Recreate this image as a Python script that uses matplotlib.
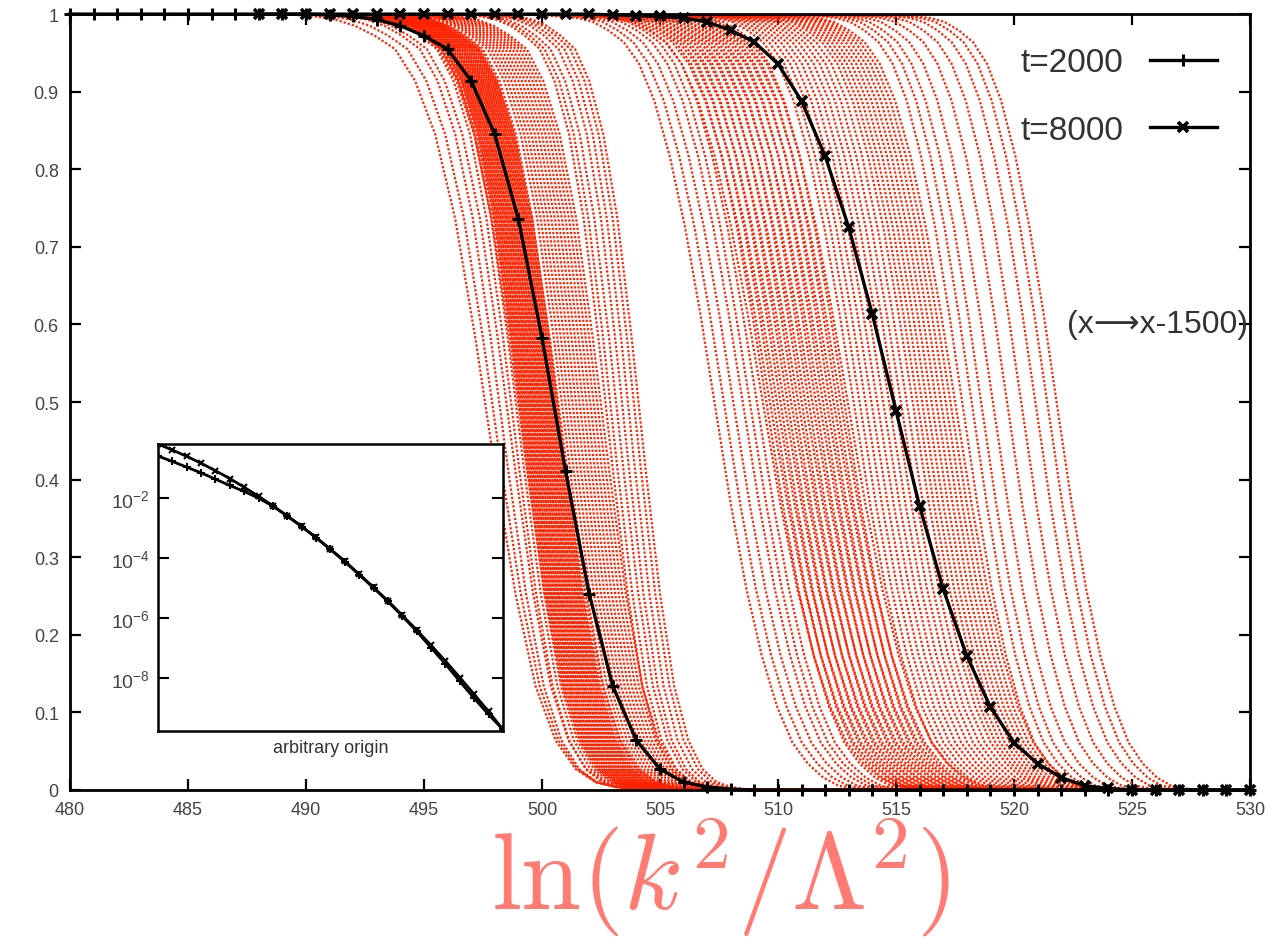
import numpy as np
import matplotlib.pyplot as plt

plt.rcParams['font.family'] = ['Liberation Sans', 'DejaVu Sans']
plt.rcParams['mathtext.fontset'] = 'custom'
plt.rcParams['mathtext.rm'] = 'Liberation Sans'
plt.rcParams['mathtext.it'] = 'Liberation Sans:italic'

# black averaged profiles
x_2000 = list(range(480, 531))
f_2000 = [1.0, 1.0, 1.0, 1.0, 1.0, 1.0, 1.0, 1.0, 1.0, 1.0, 1.0,
          0.999, 0.997, 0.993, 0.985, 0.972, 0.955, 0.914, 0.845, 0.736,
          0.583, 0.411, 0.253, 0.134, 0.064, 0.027, 0.010, 0.004, 0.001,
          0, 0, 0, 0, 0, 0, 0, 0, 0, 0, 0, 0, 0, 0, 0, 0, 0, 0, 0, 0, 0, 0]
x_8000 = list(range(488, 531))
f_8000 = [1.0, 1.0, 1.0, 1.0, 1.0, 1.0, 1.0, 1.0, 1.0, 1.0, 1.0, 1.0, 1.0, 1.0, 1.0,
          0.999, 0.998, 0.997, 0.995, 0.990, 0.979, 0.964, 0.936, 0.888,
          0.817, 0.725, 0.613, 0.489, 0.366, 0.259, 0.173, 0.107, 0.061,
          0.034, 0.016, 0.0055, 0.002, 0, 0, 0, 0, 0, 0]
mid_2000 = 500.5
mid_8000 = 514.9

# individual realisations: half-height position and relative width
red_c_2000 = [497.6, 497.9, 498.2, 498.5, 498.7, 498.9,
              499.0, 499.05, 499.1, 499.15, 499.2, 499.25, 499.3, 499.35, 499.4,
              499.45, 499.5, 499.55, 499.6, 499.65, 499.7, 499.75, 499.8, 499.85,
              499.9, 499.95, 500.0, 500.05, 500.1, 500.15, 500.2, 500.25, 500.3,
              500.35, 500.4, 500.45, 500.5, 500.55, 500.6, 500.65, 500.7,
              500.85, 501.0, 501.15, 501.3, 501.45, 501.6, 501.75, 501.9, 502.05,
              502.2, 502.35, 502.5,
              502.7, 502.9, 503.15, 503.4, 503.65, 503.9, 504.1]
red_w_2000 = [0.85, 0.8, 0.75, 0.75, 0.7, 0.7,
              0.75, 0.7, 0.75, 0.7, 0.75, 0.7, 0.75, 0.7, 0.75,
              0.7, 0.75, 0.7, 0.75, 0.7, 0.75, 0.7, 0.75, 0.7,
              0.75, 0.7, 0.75, 0.7, 0.75, 0.7, 0.75, 0.7, 0.75,
              0.7, 0.75, 0.7, 0.75, 0.7, 0.75, 0.7, 0.75,
              0.7, 0.7, 0.7, 0.7, 0.7, 0.7, 0.7, 0.7, 0.7,
              0.7, 0.7, 0.7,
              0.62, 0.62, 0.62, 0.6, 0.6, 0.6, 0.6]
red_c_8000 = [507.3, 507.7, 508.1, 508.5, 508.8, 509.1,
              509.35, 509.5, 509.65, 509.8, 509.95, 510.1, 510.25, 510.4, 510.55,
              510.7, 510.85, 511.0, 511.15, 511.3, 511.45, 511.6, 511.75, 511.9,
              512.05, 512.2, 512.35, 512.5, 512.65, 512.8, 512.95,
              513.2, 513.45, 513.7, 513.95, 514.2, 514.45, 514.7, 514.95, 515.2, 515.45,
              515.7, 515.9, 516.1, 516.3, 516.5, 516.7, 516.9, 517.1, 517.3, 517.5,
              517.8, 518.2, 518.6, 519.1, 519.7, 520.3, 520.9, 521.4, 521.8]
red_w_8000 = [0.65, 0.65, 0.65, 0.65, 0.65, 0.65,
              0.7, 0.65, 0.7, 0.65, 0.7, 0.65, 0.7, 0.65, 0.7,
              0.65, 0.7, 0.65, 0.7, 0.65, 0.7, 0.65, 0.7, 0.65,
              0.7, 0.65, 0.7, 0.65, 0.7, 0.65, 0.7,
              0.65, 0.65, 0.65, 0.65, 0.65, 0.65, 0.65, 0.65, 0.65, 0.65,
              0.65, 0.65, 0.65, 0.65, 0.65, 0.65, 0.65, 0.65, 0.65, 0.65,
              0.6, 0.6, 0.6, 0.6, 0.6, 0.6, 0.6, 0.6, 0.6]

# inset (log scale, arbitrary origin)
inset_x = list(range(25))
inset_log_a = [-0.20, -0.40, -0.61, -0.84, -1.09, -1.35, -1.64, -1.94, -2.26,
               -2.59, -2.94, -3.31, -3.70, -4.10, -4.53, -4.97, -5.42, -5.90,
               -6.39, -6.90, -7.42, -7.97, -8.53, -9.10, -9.70]
inset_log_b = [-0.60, -0.78, -0.97, -1.16, -1.37, -1.58, -1.78, -2.00, -2.27,
               -2.60, -2.95, -3.32, -3.71, -4.12, -4.55, -4.99, -5.44, -5.93,
               -6.43, -6.98, -7.52, -8.10, -8.66, -9.20, -9.70]

fig = plt.figure(figsize=(12.79, 9.45), dpi=100)
ax = fig.add_axes([0.0547, 0.163, 0.9226, 0.821])

red = '#ff2200'
for c, w in zip(red_c_2000, red_w_2000):
    xs = [c + w * (x - mid_2000) for x in x_2000]
    ax.plot(xs, f_2000, color=red, lw=1.6, ls=(0, (1, 0.9)), zorder=2)
for c, w in zip(red_c_8000, red_w_8000):
    xs = [c + w * (x - mid_8000) for x in x_8000]
    ax.plot(xs, f_8000, color=red, lw=1.6, ls=(0, (1, 0.9)), zorder=2)

ax.plot(x_2000, f_2000, color='black', lw=2.4, marker='+', ms=8, mew=2.2,
        label='t=2000', zorder=4, clip_on=False)
ax.plot(x_8000, f_8000, color='black', lw=2.4, marker='x', ms=7, mew=2.6,
        label='t=8000', zorder=5, clip_on=False)

ax.set_xlim(480, 530)
ax.set_ylim(0, 1)
ax.set_xticks(range(480, 531, 5))
ax.set_yticks(np.arange(0, 1.01, 0.1))
ax.set_yticklabels(['0', '0.1', '0.2', '0.3', '0.4', '0.5', '0.6', '0.7', '0.8', '0.9', '1'])
ax.tick_params(direction='in', length=8, width=1.6, top=True, right=True,
               labelsize=13, labelcolor='#444444', pad=8)
for s in ax.spines.values():
    s.set_linewidth(2)

leg = ax.legend(loc='upper right', frameon=False, markerfirst=False, fontsize=24,
                handlelength=2.0, labelspacing=1.1, borderaxespad=0.6)
for t in leg.get_texts():
    t.set_color('#333333')

ax.text(0.998, 0.6, '(x\u27f6x-1500)', transform=ax.get_yaxis_transform(),
        ha='right', va='center', fontsize=23, color='#333333')

fig.text(0.563, 0.037, r'$\mathrm{ln}(k^2/\Lambda^2)$', fontsize=78, color='#ff7b73',
         math_fontfamily='cm', ha='center', va='baseline')

# inset
ins = fig.add_axes([0.1235, 0.2254, 0.2697, 0.3037])
ins.set_yscale('log')
ins.plot(inset_x, [10 ** v for v in inset_log_a], color='black', lw=2,
         marker='x', ms=5, mew=1.5)
ins.plot(inset_x, [10 ** v for v in inset_log_b], color='black', lw=2,
         marker='+', ms=6, mew=1.5)
ins.set_xlim(0, 24)
ins.set_ylim(10 ** -9.75, 10 ** -0.2)
ins.set_xticks([])
ins.set_yticks([1e-2, 1e-4, 1e-6, 1e-8])
ins.set_yticklabels(['10$^{-2}$', '10$^{-4}$', '10$^{-6}$', '10$^{-8}$'])
ins.minorticks_off()
ins.tick_params(direction='in', length=8, width=1.5, right=True,
                labelsize=14, labelcolor='#444444', pad=6)
ins.set_xlabel('arbitrary origin', fontsize=13, color='#333333', labelpad=6)
for s in ins.spines.values():
    s.set_linewidth(1.8)

plt.savefig('out.png', dpi=100)
